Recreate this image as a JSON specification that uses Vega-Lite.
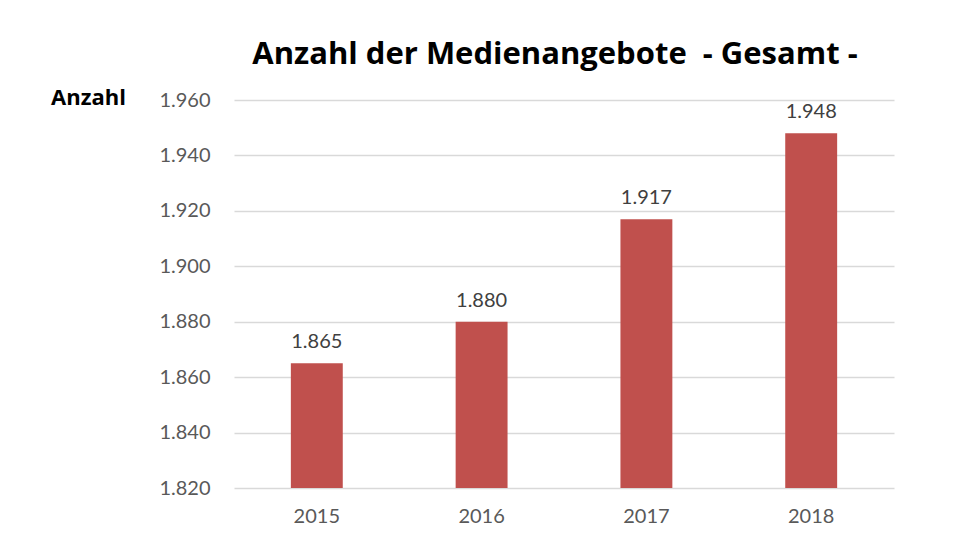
{
  "$schema": "https://vega.github.io/schema/vega-lite/v6.json",
  "autosize": {"type": "none"},
  "padding": {"left": 234, "top": 100, "right": 68, "bottom": 61},
  "width": 660,
  "height": 388,
  "background": "white",
  "config": {
    "locale": {"number": {"decimal": ",", "thousands": ".", "grouping": [3], "currency": ["", " €"]}},
    "view": {"stroke": null},
    "font": "Lato"
  },
  "title": {
    "text": "Anzahl der Medienangebote \u00a0- Gesamt -",
    "fontSize": 31,
    "fontWeight": "bold",
    "font": "Open Sans",
    "color": "#000000",
    "anchor": "middle",
    "dx": -9,
    "offset": 15
  },
  "data": {
    "values": [
      {"Jahr": "2015", "Anzahl": 1865},
      {"Jahr": "2016", "Anzahl": 1880},
      {"Jahr": "2017", "Anzahl": 1917},
      {"Jahr": "2018", "Anzahl": 1948}
    ]
  },
  "encoding": {
    "x": {
      "field": "Jahr",
      "type": "ordinal",
      "scale": {"paddingInner": 0.685, "paddingOuter": 0.345},
      "axis": {
        "title": null,
        "labelAngle": 0,
        "labelFontSize": 20,
        "labelColor": "#595959",
        "labelPadding": 18,
        "ticks": false,
        "domain": false
      }
    },
    "y": {
      "field": "Anzahl",
      "type": "quantitative",
      "scale": {"domain": [1820, 1960], "zero": false, "nice": false},
      "axis": {
        "values": [1820, 1840, 1860, 1880, 1900, 1920, 1940, 1960],
        "format": ",d",
        "title": "Anzahl",
        "titleAngle": 0,
        "titleFont": "Open Sans",
        "titleFontSize": 22,
        "titleFontWeight": "bold",
        "titleColor": "#000000",
        "titleX": -146,
        "titleY": -3,
        "titleAlign": "center",
        "titleBaseline": "middle",
        "labelFontSize": 20,
        "labelColor": "#595959",
        "labelPadding": 24,
        "ticks": false,
        "domain": false,
        "gridColor": "#d9d9d9",
        "gridWidth": 1.5
      }
    }
  },
  "layer": [
    {
      "mark": {"type": "bar", "color": "#C0504D"},
      "encoding": {"y2": {"datum": 1820}}
    },
    {
      "mark": {"type": "text", "baseline": "bottom", "dy": -11, "fontSize": 20, "color": "#404040"},
      "encoding": {"text": {"field": "Anzahl", "type": "quantitative", "format": ",d"}}
    }
  ]
}
